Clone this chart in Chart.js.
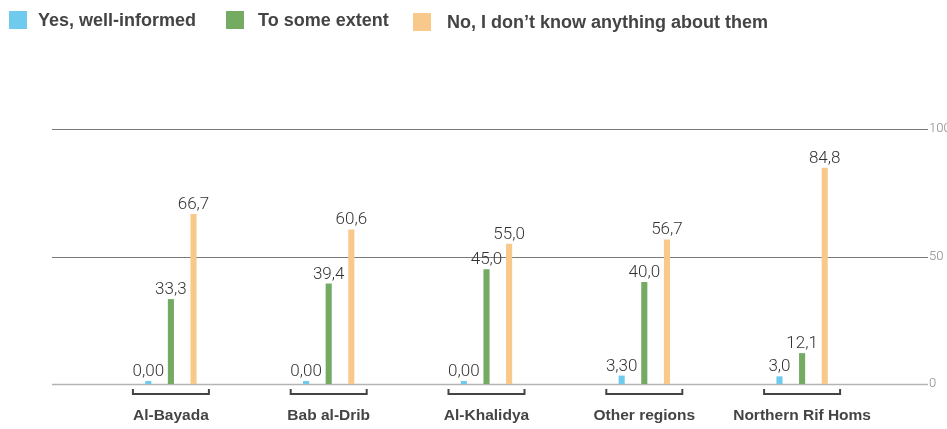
<!DOCTYPE html>
<html>
<head>
<meta charset="utf-8">
<script src="https://cdn.jsdelivr.net/npm/chart.js@4.4.1/dist/chart.umd.min.js"></script>
<style>
  html, body { margin: 0; padding: 0; background: #fff; }
  canvas { display: block; }
</style>
</head>
<body>
<canvas id="awarenessChart" width="947" height="429"></canvas>
<script>
const regions = ["Al-Bayada", "Bab al-Drib", "Al-Khalidya", "Other regions", "Northern Rif Homs"];
const wellInformed = [0, 0, 0, 3.3, 3.0];
const someExtent = [33.3, 39.4, 45.0, 40.0, 12.1];
const noKnowledge = [66.7, 60.6, 55.0, 56.7, 84.8];
const wellInformedDecimals = [2, 2, 2, 2, 1];
const yTicks = [0, 50, 100];

const seriesNames = ["Yes, well-informed", "To some extent", "No, I don\u2019t know anything about them"];
const seriesColors = ["#6ecbee", "#74ab63", "#f8c98a"];

function fmt(v, d) {
  return v.toFixed(d).replace(".", ",");
}

// horizontal rules that run wider than the bar area
const wideGrid = {
  id: "wideGrid",
  beforeDatasetsDraw(chart) {
    const ctx = chart.ctx;
    const y = chart.scales.y;
    ctx.save();
    yTicks.forEach(v => {
      const py = Math.round(y.getPixelForValue(v));
      ctx.beginPath();
      if (v === 0) {
        ctx.strokeStyle = "#b4b4b4";
        ctx.lineWidth = 1.5;
      } else {
        ctx.strokeStyle = "#7a7a7a";
        ctx.lineWidth = 1;
      }
      ctx.moveTo(52, py + 0.5);
      ctx.lineTo(928, py + 0.5);
      ctx.stroke();
    });
    ctx.restore();
  }
};

// value labels above each bar
const barValues = {
  id: "barValues",
  afterDatasetsDraw(chart) {
    const ctx = chart.ctx;
    ctx.save();
    ctx.font = "300 17px Roboto";
    ctx.fillStyle = "#333";
    ctx.textAlign = "center";
    ctx.textBaseline = "alphabetic";
    chart.data.datasets.forEach((ds, di) => {
      chart.getDatasetMeta(di).data.forEach((bar, i) => {
        const d = di === 0 ? wellInformedDecimals[i] : 1;
        ctx.fillText(fmt(ds.data[i], d), bar.x, Math.min(bar.y, bar.base) - 5);
      });
    });
    ctx.restore();
  }
};

// bracket under each group + custom legend row
const decorations = {
  id: "decorations",
  afterDraw(chart) {
    const ctx = chart.ctx;
    const x = chart.scales.x;
    ctx.save();
    ctx.strokeStyle = "#444";
    ctx.lineWidth = 2;
    regions.forEach((r, i) => {
      const cx = x.getPixelForValue(i);
      ctx.beginPath();
      ctx.moveTo(cx - 38, 389);
      ctx.lineTo(cx - 38, 394);
      ctx.lineTo(cx + 38, 394);
      ctx.lineTo(cx + 38, 389);
      ctx.stroke();
    });

    const boxX = [9, 226, 413];
    const boxY = [11, 11, 13];
    const textX = [38, 258, 447];
    ctx.font = "bold 18px 'Liberation Sans'";
    ctx.textBaseline = "middle";
    ctx.textAlign = "left";
    chart.data.datasets.forEach((ds, i) => {
      ctx.fillStyle = ds.backgroundColor;
      ctx.fillRect(boxX[i], boxY[i], 18, 18);
      ctx.fillStyle = "#444";
      ctx.fillText(ds.label, textX[i], boxY[i] + 10);
    });
    ctx.restore();
  }
};

const commonBar = {
  categoryPercentage: 0.43,
  barPercentage: 0.27,
  minBarLength: 3,
  borderWidth: 0
};

new Chart(document.getElementById("awarenessChart"), {
  type: "bar",
  data: {
    labels: regions,
    datasets: [
      Object.assign({ label: seriesNames[0], data: wellInformed, backgroundColor: seriesColors[0] }, commonBar),
      Object.assign({ label: seriesNames[1], data: someExtent, backgroundColor: seriesColors[1] }, commonBar),
      Object.assign({ label: seriesNames[2], data: noKnowledge, backgroundColor: seriesColors[2] }, commonBar)
    ]
  },
  options: {
    responsive: false,
    animation: false,
    layout: { padding: { left: 92, top: 129, right: 0, bottom: 0 } },
    plugins: {
      legend: { display: false },
      tooltip: { enabled: false }
    },
    scales: {
      x: {
        grid: { display: false, drawTicks: false },
        border: { display: false },
        ticks: {
          padding: 22,
          maxRotation: 0,
          autoSkip: false,
          color: "#444",
          font: { family: "'Liberation Sans'", size: 15.5, weight: "bold" }
        },
        afterFit(scale) { scale.height = 45; }
      },
      y: {
        position: "right",
        min: 0,
        max: 100,
        grid: { display: false, drawTicks: false },
        border: { display: false },
        afterBuildTicks(scale) { scale.ticks = yTicks.map(v => ({ value: v })); },
        ticks: {
          padding: 48,
          color: "#888",
          font: { family: "Roboto", size: 13, weight: "300" }
        },
        afterFit(scale) {
          scale.width = 66;
          scale.paddingTop = 0;
          scale.paddingBottom = 0;
        }
      }
    }
  },
  plugins: [wideGrid, barValues, decorations]
});
</script>
</body>
</html>
